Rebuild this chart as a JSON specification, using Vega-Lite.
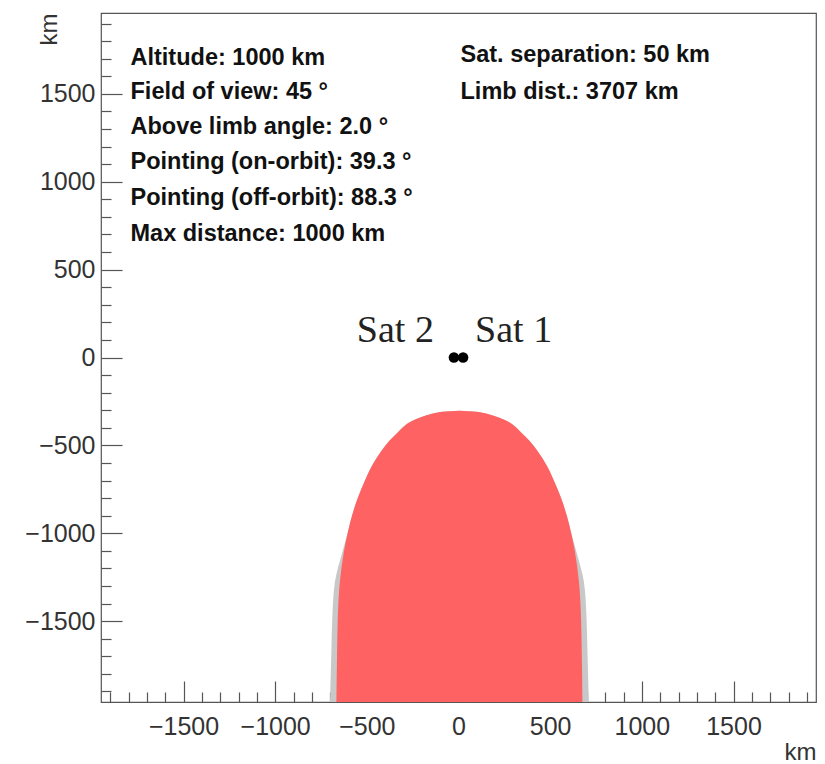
{
  "$schema": "https://vega.github.io/schema/vega-lite/v6.json",
  "width": 715,
  "height": 689,
  "autosize": {"type": "none"},
  "padding": {"left": 101, "top": 13, "right": 9, "bottom": 62},
  "background": "white",
  "config": {"view": {"stroke": "#555555", "strokeWidth": 1.2}, "font": "Liberation Sans"},
  "datasets": {
    "gray": [
      {"y": -1960, "x": -701, "xr": 711},
      {"y": -1658, "x": -693, "xr": 703},
      {"y": -1470, "x": -688, "xr": 698},
      {"y": -1276, "x": -674, "xr": 684},
      {"y": -1105, "x": -633, "xr": 643},
      {"y": -992, "x": -603, "xr": 613},
      {"y": -901, "x": -581, "xr": 591},
      {"y": -804, "x": -551, "xr": 561},
      {"y": -707, "x": -513, "xr": 523},
      {"y": -616, "x": -472, "xr": 482},
      {"y": -531, "x": -420, "xr": 430},
      {"y": -474, "x": -377, "xr": 387},
      {"y": -428, "x": -333, "xr": 343},
      {"y": -394, "x": -300, "xr": 310},
      {"y": -365, "x": -262, "xr": 272},
      {"y": -343, "x": -213, "xr": 223},
      {"y": -326, "x": -164, "xr": 174},
      {"y": -314, "x": -120, "xr": 130},
      {"y": -309, "x": -88, "xr": 98},
      {"y": -303, "x": 5, "xr": 5}
    ],
    "red": [
      {"y": -1960, "x": -666, "xr": 676},
      {"y": -1658, "x": -662, "xr": 672},
      {"y": -1470, "x": -658, "xr": 668},
      {"y": -1276, "x": -647, "xr": 657},
      {"y": -1105, "x": -625, "xr": 635},
      {"y": -992, "x": -603, "xr": 613},
      {"y": -901, "x": -581, "xr": 591},
      {"y": -804, "x": -551, "xr": 561},
      {"y": -707, "x": -513, "xr": 523},
      {"y": -616, "x": -472, "xr": 482},
      {"y": -531, "x": -420, "xr": 430},
      {"y": -474, "x": -377, "xr": 387},
      {"y": -428, "x": -333, "xr": 343},
      {"y": -394, "x": -300, "xr": 310},
      {"y": -365, "x": -262, "xr": 272},
      {"y": -343, "x": -213, "xr": 223},
      {"y": -326, "x": -164, "xr": 174},
      {"y": -314, "x": -120, "xr": 130},
      {"y": -309, "x": -88, "xr": 98},
      {"y": -303, "x": 5, "xr": 5}
    ],
    "sats": [
      {"name": "Sat 1", "x": 25, "y": 0},
      {"name": "Sat 2", "x": -25, "y": 0}
    ],
    "notes": [
      {"x": -1789, "y": 1705, "text": "Altitude: 1000 km"},
      {"x": -1789, "y": 1508, "text": "Field of view: 45 °"},
      {"x": -1789, "y": 1312, "text": "Above limb angle: 2.0 °"},
      {"x": -1789, "y": 1113, "text": "Pointing (on-orbit): 39.3 °"},
      {"x": -1789, "y": 908, "text": "Pointing (off-orbit): 88.3 °"},
      {"x": -1789, "y": 703, "text": "Max distance: 1000 km"},
      {"x": 11, "y": 1720, "text": "Sat. separation: 50 km"},
      {"x": 11, "y": 1510, "text": "Limb dist.: 3707 km"}
    ]
  },
  "encoding": {
    "x": {
      "field": "x",
      "type": "quantitative",
      "scale": {"domain": [-1950, 1950], "nice": false, "zero": false},
      "axis": {
        "title": "km",
        "values": [-1900,-1800,-1700,-1600,-1500,-1400,-1300,-1200,-1100,-1000,-900,-800,-700,-600,-500,-400,-300,-200,-100,0,100,200,300,400,500,600,700,800,900,1000,1100,1200,1300,1400,1500,1600,1700,1800,1900],
        "format": "d",
        "labelExpr": "datum.value % 500 === 0 ? datum.label : ''",
        "labelOverlap": false,
        "labelFlush": false,
        "labelBound": false,
        "domain": false,
        "grid": false,
        "tickColor": "#555555",
        "tickWidth": 1.2,
        "tickSize": {"condition": {"test": "datum.value % 500 === 0", "value": -21}, "value": -10},
        "labelPadding": 33,
        "labelFontSize": 25,
        "labelColor": "#333333",
        "titleFontSize": 24,
        "titleFontWeight": "normal",
        "titleColor": "#333333",
        "titleAnchor": "end",
        "titleAlign": "right",
        "titleBaseline": "alphabetic",
        "titleX": 715,
        "titleY": 57
      }
    },
    "y": {
      "field": "y",
      "type": "quantitative",
      "scale": {"domain": [-1960, 1960], "nice": false, "zero": false},
      "axis": {
        "title": "km",
        "values": [-1900,-1800,-1700,-1600,-1500,-1400,-1300,-1200,-1100,-1000,-900,-800,-700,-600,-500,-400,-300,-200,-100,0,100,200,300,400,500,600,700,800,900,1000,1100,1200,1300,1400,1500,1600,1700,1800,1900],
        "format": "d",
        "labelExpr": "datum.value % 500 === 0 ? datum.label : ''",
        "labelOverlap": false,
        "labelFlush": false,
        "labelBound": false,
        "domain": false,
        "grid": false,
        "tickColor": "#555555",
        "tickWidth": 1.2,
        "tickSize": {"condition": {"test": "datum.value % 500 === 0", "value": -21}, "value": -10},
        "labelPadding": 27,
        "labelFontSize": 25,
        "labelColor": "#333333",
        "titleFontSize": 24,
        "titleFontWeight": "normal",
        "titleColor": "#333333",
        "titleAnchor": "end",
        "titleAngle": -90,
        "titleAlign": "right",
        "titleBaseline": "middle",
        "titleX": -52,
        "titleY": 0
      }
    }
  },
  "layer": [
    {
      "data": {"name": "gray"},
      "mark": {"type": "area", "orient": "horizontal", "interpolate": "monotone", "color": "#c8c8c8", "clip": true},
      "encoding": {"x2": {"field": "xr"}}
    },
    {
      "data": {"name": "red"},
      "mark": {"type": "area", "orient": "horizontal", "interpolate": "monotone", "color": "#fe6262", "clip": true},
      "encoding": {"x2": {"field": "xr"}}
    },
    {
      "data": {"name": "sats"},
      "mark": {"type": "point", "filled": true, "color": "#000000", "size": 110, "opacity": 1, "shape": "circle"}
    },
    {
      "data": {"name": "sats"},
      "transform": [{"filter": "datum.name === 'Sat 2'"}],
      "mark": {"type": "text", "font": "Liberation Serif", "fontSize": 38, "color": "#222222", "align": "right", "baseline": "alphabetic", "dx": -20, "dy": -16},
      "encoding": {"text": {"field": "name"}}
    },
    {
      "data": {"name": "sats"},
      "transform": [{"filter": "datum.name === 'Sat 1'"}],
      "mark": {"type": "text", "font": "Liberation Serif", "fontSize": 38, "color": "#222222", "align": "left", "baseline": "alphabetic", "dx": 12, "dy": -16},
      "encoding": {"text": {"field": "name"}}
    },
    {
      "data": {"name": "notes"},
      "mark": {"type": "text", "font": "Liberation Sans", "fontSize": 23.5, "fontWeight": "bold", "color": "#111111", "align": "left", "baseline": "middle"},
      "encoding": {"text": {"field": "text"}}
    }
  ]
}
